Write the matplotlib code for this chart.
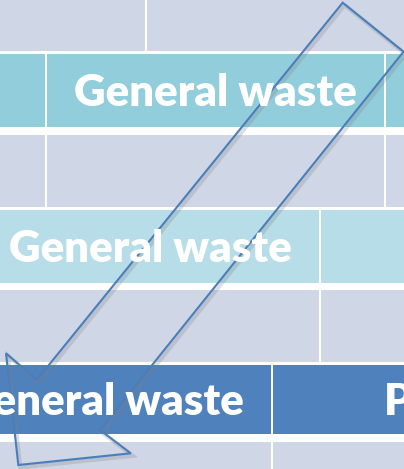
import matplotlib
matplotlib.use("Agg")
import matplotlib.pyplot as plt
from matplotlib.patches import Rectangle, Polygon

# brick rows, top to bottom (pixel coords of the slide crop)
row_top = [0, 54, 135, 210.5, 290, 365, 442]
row_bottom = [51.5, 127, 207, 283, 362.5, 434, 469]
row_joint = [146, 46, 46, 320, 320, 272, 272]   # x of one vertical joint per row
row_color = ["#CFD6E6", "#92CDDC", "#CFD6E6", "#B6DDE8", "#CFD6E6", "#4F81BD", "#CFD6E6"]
# labels: (row index, brick offset from the joint, text)
label_row = [1, 3, 5, 5]
label_brick = [0, -1, -1, 0]
label_text = ["General waste", "General waste", "General waste", "Paper"]

# outlined arrow (pointing down-left)
arrow_x = [342.7, 403.5, 100, 130.7, 18.3, 6, 36.7]
arrow_y = [2.7, 51.7, 430, 453.3, 465, 353.3, 380]

brick_w = 339
gap = 2.5

fig = plt.figure(figsize=(4.04, 4.69), dpi=100)
ax = fig.add_axes([0, 0, 1, 1])
ax.set_xlim(0, 404)
ax.set_ylim(469, 0)
ax.axis("off")
fig.patch.set_facecolor("white")

for top, bot, joint, col in zip(row_top, row_bottom, row_joint, row_color):
    for k in range(-3, 3):
        x0 = joint + k * brick_w + gap / 2
        ax.add_patch(Rectangle((x0, top), brick_w - gap, bot - top,
                               facecolor=col, edgecolor="none"))

for r, k, txt in zip(label_row, label_brick, label_text):
    cx = row_joint[r] + k * brick_w + brick_w / 2
    cy = (row_top[r] + row_bottom[r]) / 2
    ax.text(cx, cy + 15.5, txt, ha="center", va="baseline", color="white",
            fontsize=31.5, fontweight="heavy", family="Lato")

pts = list(zip(arrow_x, arrow_y))
shadow = [(x + 2, y + 2.5) for x, y in pts]
ax.add_patch(Polygon(shadow, closed=True, fill=False, edgecolor="#7F7F7F",
                     alpha=0.25, linewidth=3))
ax.add_patch(Polygon(pts, closed=True, fill=False, edgecolor="#4A7EBB",
                     linewidth=1.5, joinstyle="miter"))

fig.savefig("out.png", dpi=100)
